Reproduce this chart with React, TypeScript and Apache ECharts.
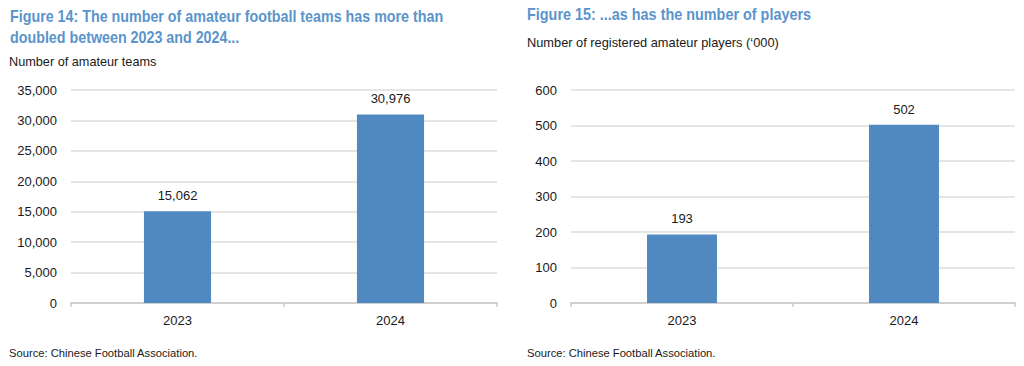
import React, { useEffect, useRef } from "react";
import * as echarts from "echarts";

const categories = ["2023", "2024"];
const teamValues = [15062, 30976];
const playerValues = [193, 502];
const title1Lines = [
  "Figure 14: The number of amateur football teams has more than",
  "doubled between 2023 and 2024...",
];
const subtitle1 = "Number of amateur teams";
const title2 = "Figure 15: ...as has the number of players";
const subtitle2 = "Number of registered amateur players (\u2018000)";
const sourceText = "Source: Chinese Football Association.";

const FONT = "'Liberation Sans', Arial, sans-serif";
const BLUE = "#4f89bf";
const TITLE_BLUE = "#5a94cb";
const TEXT = "#1a1a1a";

export default function App() {
  const ref = useRef<HTMLDivElement>(null);
  useEffect(() => {
    if (!ref.current) return;
    const chart = echarts.init(ref.current, null, { renderer: "svg" });
    const fmt = (v: number) => v.toLocaleString("en-US");
    const yAxisBase = {
      type: "value" as const,
      min: 0,
      axisLine: { show: false },
      axisTick: { show: false },
      splitLine: { lineStyle: { color: "#dcdcdc", width: 1.5 } },
      axisLabel: {
        color: TEXT,
        fontSize: 13,
        fontFamily: FONT,
        margin: 14,
        formatter: (v: number) => fmt(v),
      },
    };
    const xAxisBase = {
      type: "category" as const,
      data: categories,
      axisLine: { lineStyle: { color: "#c8c8c8", width: 1.5 } },
      axisTick: { show: true, length: 4, lineStyle: { color: "#c8c8c8", width: 1.5 } },
      axisLabel: { color: TEXT, fontSize: 13, fontFamily: FONT, margin: 11 },
    };
    const labelBase = {
      show: true,
      position: "top" as const,
      distance: 9,
      color: TEXT,
      fontSize: 13,
      fontFamily: FONT,
      formatter: (p: any) => fmt(p.value),
    };
    chart.setOption({
      animation: false,
      backgroundColor: "#ffffff",
      grid: [
        { left: 71, width: 426, top: 90, height: 213 },
        { left: 571, width: 444, top: 90, height: 213 },
      ],
      xAxis: [
        { ...xAxisBase, gridIndex: 0 },
        { ...xAxisBase, gridIndex: 1 },
      ],
      yAxis: [
        { ...yAxisBase, gridIndex: 0, max: 35000, interval: 5000 },
        { ...yAxisBase, gridIndex: 1, max: 600, interval: 100 },
      ],
      series: [
        {
          type: "bar",
          xAxisIndex: 0,
          yAxisIndex: 0,
          data: teamValues,
          barWidth: "31.5%",
          itemStyle: { color: BLUE },
          label: labelBase,
        },
        {
          type: "bar",
          xAxisIndex: 1,
          yAxisIndex: 1,
          data: playerValues,
          barWidth: "31.5%",
          itemStyle: { color: BLUE },
          label: labelBase,
        },
      ],
      graphic: [
        {
          type: "text",
          x: 10,
          y: 6,
          scaleX: 0.893,
          style: {
            text: title1Lines.join("\n"),
            fill: TITLE_BLUE,
            font: `bold 16px ${FONT}`,
            lineHeight: 21,
            verticalAlign: "top",
          },
        },
        {
          type: "text",
          x: 9,
          y: 55,
          style: { text: subtitle1, fill: TEXT, font: `12.7px ${FONT}`, verticalAlign: "top" },
        },
        {
          type: "text",
          x: 527,
          y: 6,
          scaleX: 0.9,
          style: { text: title2, fill: TITLE_BLUE, font: `bold 16px ${FONT}`, verticalAlign: "top" },
        },
        {
          type: "text",
          x: 527,
          y: 36,
          style: { text: subtitle2, fill: TEXT, font: `12.8px ${FONT}`, verticalAlign: "top" },
        },
        {
          type: "text",
          x: 9,
          y: 347,
          style: { text: sourceText, fill: TEXT, font: `11.2px ${FONT}`, verticalAlign: "top" },
        },
        {
          type: "text",
          x: 527,
          y: 347,
          style: { text: sourceText, fill: TEXT, font: `11.2px ${FONT}`, verticalAlign: "top" },
        },
      ],
    });
    return () => chart.dispose();
  }, []);
  return (
    <div
      ref={ref}
      style={{ position: "absolute", left: 0, top: 0, width: 1024, height: 366 }}
    />
  );
}
